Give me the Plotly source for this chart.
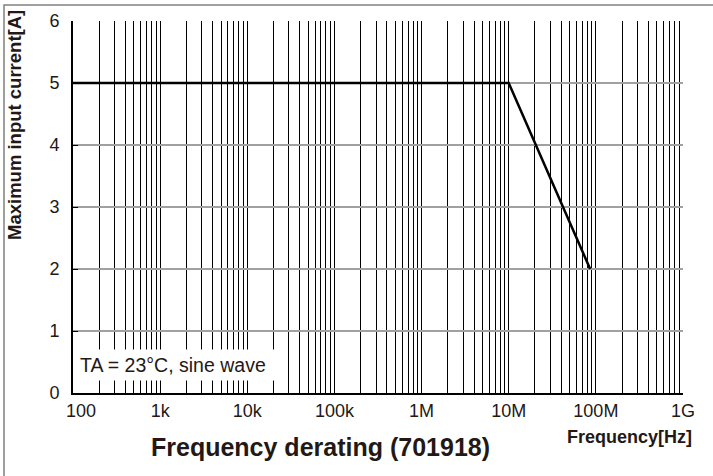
import plotly.graph_objects as go
import math

# Data
freq_hz = [100, 1e7, 8.6e7]
max_current_a = [5, 5, 2]
decade_labels = ["100", "1k", "10k", "100k", "1M", "10M", "100M", "1G"]
y_ticks = [0, 1, 2, 3, 4, 5, 6]

# Grid positions on log axis: 1..9 in each decade, labels only at decades
# (the first label is drawn separately, nudged right as in the reference)
tickvals, ticktext = [], []
for k in range(2, 9):
    for d in range(1, 10):
        tickvals.append(d * 10 ** k)
        ticktext.append(decade_labels[k - 2] if (d == 1 and k > 2) else "")
tickvals.append(1e9)
ticktext.append(decade_labels[-1])

FONT = "Liberation Sans, Arial, sans-serif"
DARK = "#231815"

fig = go.Figure()
fig.add_trace(go.Scatter(
    x=freq_hz, y=max_current_a, mode="lines",
    line=dict(color="black", width=2.5), showlegend=False, hoverinfo="skip",
))

fig.update_layout(
    width=713, height=476,
    margin=dict(l=73, r=30, t=21, b=83),
    paper_bgcolor="white", plot_bgcolor="white",
    font=dict(family=FONT, size=18, color=DARK),
    xaxis=dict(
        type="log", range=[2, 9],
        tickmode="array", tickvals=tickvals, ticktext=ticktext,
        showgrid=True, gridcolor="black", gridwidth=1,
        showline=True, linecolor="black", linewidth=2,
        ticks="", zeroline=False,
        tickfont=dict(size=18, color=DARK),
    ),
    yaxis=dict(
        range=[0, 6], tickvals=y_ticks,
        showgrid=True, gridcolor="#a0a0a0", gridwidth=1.5,
        showline=True, linecolor="black", linewidth=2,
        ticks="inside", ticklen=5, tickcolor="black",
        zeroline=False, ticklabelstandoff=8,
        tickfont=dict(size=18, color=DARK),
    ),
    shapes=[dict(
        type="rect", xref="paper", yref="paper",
        x0=(4 - 73) / 610, x1=(730 - 73) / 610,
        y0=(393 - 490) / 372, y1=(393 - 5) / 372,
        line=dict(color="#808080", width=1.5), fillcolor="rgba(0,0,0,0)",
        layer="below",
    )],
    annotations=[
        dict(text=decade_labels[0], xref="x", yref="paper",
             x=math.log10(tickvals[0]), y=(393 - 411) / 372, xshift=8,
             xanchor="center", yanchor="middle", showarrow=False,
             font=dict(size=18, color=DARK)),
        dict(text="TA = 23°C, sine wave", xref="paper", yref="paper",
             x=0.003, y=(393 - 381) / 372, xanchor="left", yanchor="bottom",
             showarrow=False, bgcolor="white", borderpad=4, width=198,
             align="left", font=dict(size=19.5, color=DARK)),
        dict(text="<b>Frequency derating (701918)</b>", xref="paper", yref="paper",
             x=(320 - 73) / 610, y=(393 - 447) / 372, xanchor="center", yanchor="middle",
             showarrow=False, font=dict(size=25, color=DARK)),
        dict(text="<b>Frequency[Hz]</b>", xref="paper", yref="paper",
             x=(629 - 73) / 610, y=(393 - 437) / 372, xanchor="center", yanchor="middle",
             showarrow=False, font=dict(size=18, color=DARK)),
        dict(text="<b>Maximum input current[A]</b>", xref="paper", yref="paper",
             x=(15 - 73) / 610, y=(393 - 125) / 372, xanchor="center", yanchor="middle",
             textangle=-90, showarrow=False, font=dict(size=18.5, color=DARK)),
    ],
)

fig.write_html("out.html")
